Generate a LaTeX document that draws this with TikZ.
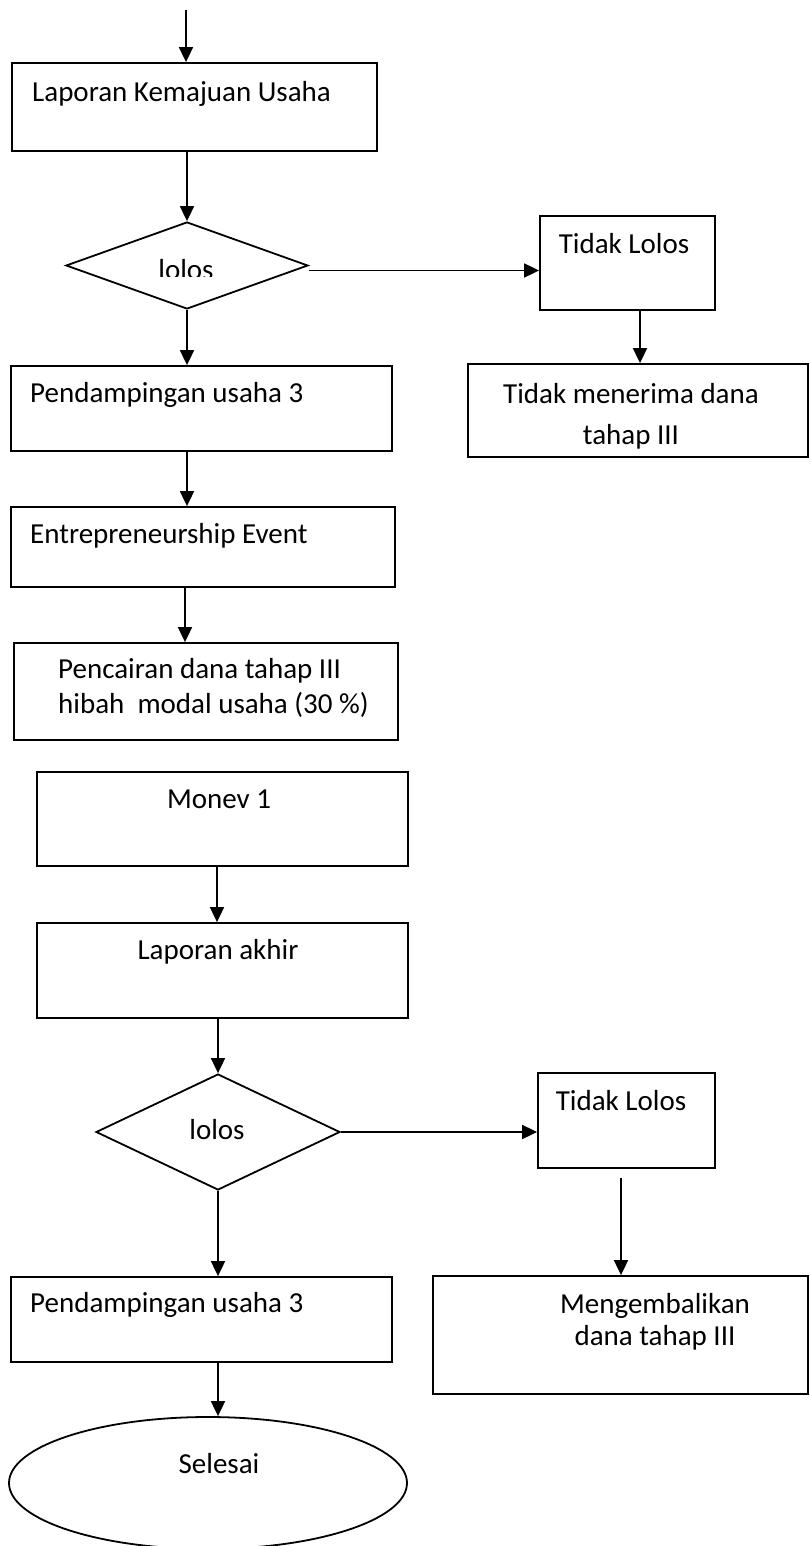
\documentclass[tikz,border=0pt]{standalone}
\usepackage{fontspec}
\setmainfont{Carlito}
\usetikzlibrary{shapes.geometric,arrows.meta}
\begin{document}
\begin{tikzpicture}[x=1pt,y=-1pt,
  box/.style={draw, line width=1.8pt, rectangle, inner sep=0pt},
  dia/.style={draw, line width=1.8pt, diamond, inner sep=0pt},
  oval/.style={draw, line width=1.8pt, ellipse, inner sep=0pt},
  txt/.style={inner sep=0pt, font=\fontsize{29}{35}\selectfont},
  arr/.style={line width=1.8pt, -{Triangle[length=15pt,width=14pt]}}]
\useasboundingbox (0,0) rectangle (809,1546);
\fill[white] (0,0) rectangle (809,1546);

% nodes
\coordinate (start) at (186,10);
\node[box, minimum width=365pt, minimum height=88pt] (b1) at (194.5,107) {};
\node[txt, anchor=base west] (b1t) at (32,102) {Laporan Kemajuan Usaha};

\node[dia, minimum width=242pt, minimum height=87pt] (d1) at (187,265.5) {};
\begin{scope}
  \clip (100,240) rectangle (280,276);
  \node[txt, anchor=base] (d1t) at (186,279) {lolos};
\end{scope}

\node[box, minimum width=175pt, minimum height=94pt] (tl1) at (627.5,263) {};
\node[txt, anchor=base] (tl1t) at (624,254) {Tidak Lolos};

\node[box, minimum width=340pt, minimum height=93pt] (tm) at (638,410.5) {};
\node[txt, anchor=base] (tma) at (631,403) {Tidak menerima dana};
\node[txt, anchor=base] (tmb) at (631,444) {tahap III};

\node[box, minimum width=381pt, minimum height=85pt] (p1) at (201.5,408.5) {};
\node[txt, anchor=base west] (p1t) at (30,402) {Pendampingan usaha 3};

\node[box, minimum width=384pt, minimum height=80pt] (ee) at (203,547) {};
\node[txt, anchor=base west] (eet) at (30,543) {Entrepreneurship Event};

\node[box, minimum width=384pt, minimum height=97pt] (pc) at (206,691.5) {};
\node[txt, anchor=base west] (pca) at (58,678) {Pencairan dana tahap III};
\node[txt, anchor=base west] (pcb) at (58,713) {hibah\ \ modal usaha (30 \%)};

\node[box, minimum width=371pt, minimum height=94pt] (mv) at (222.5,819) {};
\node[txt, anchor=base] (mvt) at (219,808) {Monev 1};

\node[box, minimum width=371pt, minimum height=95pt] (la) at (222.5,970.5) {};
\node[txt, anchor=base] (lat) at (218,959) {Laporan akhir};

\node[dia, minimum width=244pt, minimum height=116pt] (d2) at (218,1132) {};
\node[txt, anchor=base] (d2t) at (217,1139) {lolos};

\node[box, minimum width=177pt, minimum height=95pt] (tl2) at (626.5,1120.5) {};
\node[txt, anchor=base] (tl2t) at (621,1110) {Tidak Lolos};
\coordinate (g2) at (621,1178);

\node[box, minimum width=375pt, minimum height=118pt] (mk) at (620.5,1335) {};
\node[txt, anchor=base] (mka) at (655,1313) {Mengembalikan};
\node[txt, anchor=base] (mkb) at (655,1345) {dana tahap III};

\node[box, minimum width=381pt, minimum height=85pt] (p2) at (201.5,1319.5) {};
\node[txt, anchor=base west] (p2t) at (30,1312) {Pendampingan usaha 3};

\node[oval, minimum width=398pt, minimum height=132pt] (el) at (208,1483) {};
\node[txt, anchor=base] (elt) at (219,1473) {Selesai};

% connectors
\draw[arr] (start) -- (start |- b1.north);
\draw[arr] (b1.south -| d1.north) -- (d1.north);
\draw[arr] ([yshift=-5pt]d1.east) -- ([yshift=-5pt]d1.east -| tl1.west);
\draw[arr] ([xshift=12.5pt]tl1.south) -- ([xshift=12.5pt]tl1.south |- tm.north);
\draw[arr] (d1.south) -- (d1.south |- p1.north);
\draw[arr] (p1.south -| d1.south) -- (d1.south |- ee.north);
\draw[arr] ([xshift=-18pt]ee.south) -- ([xshift=-18pt]ee.south |- pc.north);
\draw[arr] ([xshift=-5.5pt]mv.south) -- ([xshift=-5.5pt]mv.south |- la.north);
\draw[arr] (d2.north |- la.south) -- (d2.north);
\draw[arr] (d2.east) -- (d2.east -| tl2.west);
\draw[arr] (g2) -- (g2 |- mk.north);
\draw[arr] (d2.south) -- (d2.south |- p2.north);
\draw[arr] (p2.south -| d2.south) -- (d2.south |- el.north);
\end{tikzpicture}
\end{document}
